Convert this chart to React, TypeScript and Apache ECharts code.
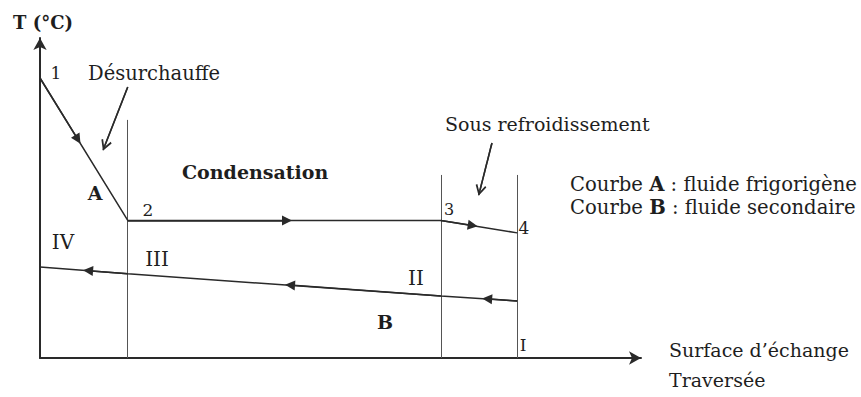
import React, { useEffect, useRef } from 'react';
import * as echarts from 'echarts';

// Exchange surface position (0..100) of states 1..4 (curve A) and IV..I (curve B)
const stateX = [0, 14.6, 66.7, 79.4];
// Temperatures (arbitrary 0..100 scale)
const curveA = [87.5, 43.0, 43.0, 39.1]; // refrigerant: 1, 2, 3, 4
const curveB = [28.4, 26.3, 19.4, 17.8]; // secondary fluid: IV, III, II, I
const stateLabelsA = ['1', '2', '3', '4'];
const stateLabelsB = ['IV', 'III', 'II', 'I'];
// Tops of the zone dividers at stateX[1], stateX[2], stateX[3]
const dividerTop = [74.4, 57.2, 57.2];
// Flow-direction arrowheads (centre points)
const arrowsA = [[6.3, 68.3], [41.1, 43.0], [72.0, 41.4]];
const arrowsB = [[8.0, 27.3], [41.6, 22.8], [74.4, 18.5]];
// Annotation pointers: [start, apex, head centre]
const pointerDes = [[14.6, 84.7], [10.5, 65.0], [10.8, 66.4]];
const pointerSous = [[75.2, 67.2], [73.0, 50.9], [73.2, 52.4]];

const FONT = "'DejaVu Serif', 'Liberation Serif', serif";
const INK = '#1e1e1e';

const chevron = 'path://M5,0 L10,9 L8.7,10 L5,3.3 L1.3,10 L0,9 Z';

function txt(text: string, x: number, y: number, size: number, bold = false, align = 'left') {
  return {
    type: 'text',
    x,
    y,
    silent: true,
    style: {
      text,
      fill: INK,
      fontFamily: FONT,
      fontSize: size,
      fontWeight: bold ? 'bold' : 'normal',
      align,
      verticalAlign: 'middle',
    },
  };
}

function richTxt(text: string, x: number, y: number, size: number) {
  return {
    type: 'text',
    x,
    y,
    silent: true,
    style: {
      text,
      fill: INK,
      fontFamily: FONT,
      fontSize: size,
      align: 'left',
      verticalAlign: 'middle',
      rich: {
        b: { fontFamily: FONT, fontSize: size, fontWeight: 'bold', fill: INK },
        n: { fontFamily: FONT, fontSize: size, fontWeight: 'normal', fill: INK },
      },
    },
  };
}

export default function App() {
  const ref = useRef<HTMLDivElement>(null);

  useEffect(() => {
    if (!ref.current) return;
    const chart = echarts.init(ref.current, null, { renderer: 'svg' });

    const lineStyleCurve = { color: '#2a2a2a', width: 1.5, opacity: 1 };

    const option: any = {
      animation: false,
      backgroundColor: '#ffffff',
      grid: { left: 40, right: 220, top: 38, bottom: 39, containLabel: false },
      xAxis: {
        type: 'value',
        min: 0,
        max: 100,
        axisLine: {
          show: true,
          onZero: false,
          symbol: ['none', 'arrow'],
          symbolSize: [10, 12],
          lineStyle: { color: '#2a2a2a', width: 2 },
        },
        axisTick: { show: false },
        axisLabel: { show: false },
        splitLine: { show: false },
      },
      yAxis: {
        type: 'value',
        min: 0,
        max: 100,
        axisLine: {
          show: true,
          onZero: false,
          symbol: ['none', 'arrow'],
          symbolSize: [10, 12],
          lineStyle: { color: '#2a2a2a', width: 2 },
        },
        axisTick: { show: false },
        axisLabel: { show: false },
        splitLine: { show: false },
      },
      series: [
        {
          name: 'dividers',
          type: 'lines',
          coordinateSystem: 'cartesian2d',
          silent: true,
          symbol: 'none',
          lineStyle: { color: '#555555', width: 1, opacity: 1 },
          data: dividerTop.map((top, i) => ({
            coords: [[stateX[i + 1], 0], [stateX[i + 1], top]],
          })),
        },
        {
          name: 'Courbe A',
          type: 'line',
          showSymbol: false,
          silent: true,
          lineStyle: lineStyleCurve,
          data: stateX.map((x, i) => [x, curveA[i]]),
        },
        {
          name: 'Courbe B',
          type: 'line',
          showSymbol: false,
          silent: true,
          lineStyle: lineStyleCurve,
          data: stateX.map((x, i) => [x, curveB[i]]),
        },
        {
          name: 'flowA',
          type: 'lines',
          coordinateSystem: 'cartesian2d',
          silent: true,
          symbol: ['none', 'triangle'],
          symbolSize: 10,
          lineStyle: lineStyleCurve,
          data: arrowsA.map((p, i) => ({ coords: [[stateX[i], curveA[i]], p] })),
        },
        {
          name: 'flowB',
          type: 'lines',
          coordinateSystem: 'cartesian2d',
          silent: true,
          symbol: ['none', 'triangle'],
          symbolSize: 10,
          lineStyle: lineStyleCurve,
          data: arrowsB.map((p, i) => ({ coords: [[stateX[i + 1], curveB[i + 1]], p] })),
        },
        {
          name: 'pointerShafts',
          type: 'lines',
          coordinateSystem: 'cartesian2d',
          silent: true,
          symbol: 'none',
          lineStyle: { color: '#2a2a2a', width: 1.5, opacity: 1 },
          data: [pointerDes, pointerSous].map((p) => ({ coords: [p[0], p[1]] })),
        },
        {
          name: 'pointerHeads',
          type: 'lines',
          coordinateSystem: 'cartesian2d',
          silent: true,
          symbol: ['none', chevron],
          symbolSize: 11,
          lineStyle: { color: '#2a2a2a', width: 1.5, opacity: 1 },
          data: [pointerDes, pointerSous].map((p) => ({ coords: [p[0], p[2]] })),
        },
      ],
      graphic: {
        elements: [
          txt('T (°C)', 13, 22, 18, true),
          txt(stateLabelsA[0], 56, 73, 17, false, 'center'),
          txt(stateLabelsA[1], 148, 210, 17, false, 'center'),
          txt(stateLabelsA[2], 449, 209, 16, false, 'center'),
          txt(stateLabelsA[3], 524, 228, 17, false, 'center'),
          txt(stateLabelsB[0], 63, 242, 20, false, 'center'),
          txt(stateLabelsB[1], 157, 259, 20, false, 'center'),
          txt(stateLabelsB[2], 416, 278, 20, false, 'center'),
          txt(stateLabelsB[3], 523, 345, 17, false, 'center'),
          txt('Désurchauffe', 88, 73, 19.5),
          txt('A', 95, 193, 19, true, 'center'),
          txt('B', 385, 322, 19, true, 'center'),
          txt('Condensation', 182, 172, 19, true),
          txt('Sous refroidissement', 445, 124, 19),
          richTxt('{n|Courbe }{b|A}{n| : fluide frigorigène}', 570, 184, 19.6),
          richTxt('{n|Courbe }{b|B}{n| : fluide secondaire}', 570, 207, 19.6),
          txt('Surface d’échange', 669, 350, 19),
          txt('Traversée', 669, 380, 19),
        ],
      },
    };

    chart.setOption(option);
    return () => chart.dispose();
  }, []);

  return (
    <div
      ref={ref}
      style={{ position: 'fixed', left: 0, top: 0, width: 861, height: 397, background: '#fff' }}
    />
  );
}
